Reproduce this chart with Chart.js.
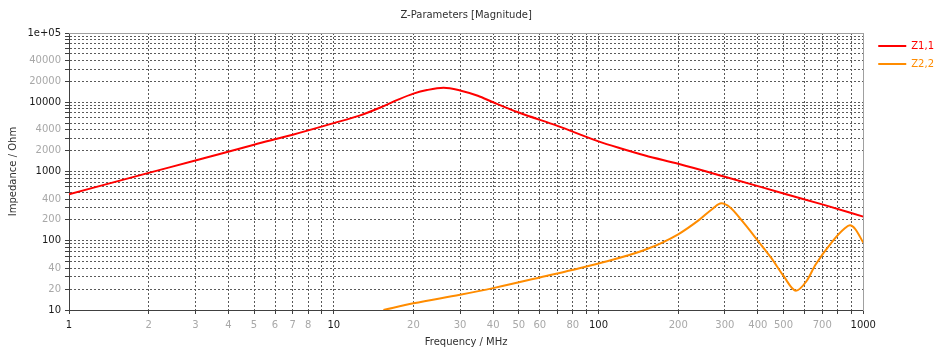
<!DOCTYPE html>
<html>
<head>
<meta charset="utf-8">
<script src="https://cdn.jsdelivr.net/npm/chart.js@4/dist/chart.umd.min.js"></script>
<style>
  html, body { margin: 0; padding: 0; background: #fff; }
  #wrap { width: 940px; height: 352px; }
</style>
</head>
<body>
<div id="wrap"><canvas id="zChart" width="940" height="352"></canvas></div>
<script>
// Z1,1 magnitude (Ohm) vs frequency (MHz)
const freqZ11 = [1, 2, 3, 5, 7, 10, 12.5, 15, 17.5, 20, 22.5, 26, 30, 35, 40, 50, 70, 100, 120, 150, 200, 300, 500, 700, 1000];
const z11 = [470, 955, 1440, 2440, 3400, 5000, 6400, 8400, 10900, 13300, 15000, 16200, 14800, 12400, 10000, 7100, 4550, 2720, 2180, 1700, 1290, 840, 482, 335, 223];

// Z2,2 magnitude (Ohm) vs frequency (MHz)
const freqZ22 = [15.4, 20, 30, 40, 60, 100, 150, 200, 240, 270, 291, 315, 350, 400, 450, 500, 557, 610, 660, 760, 850, 891, 930, 1000];
const z22 = [10, 12.5, 16.6, 20.7, 29.5, 47, 74, 124, 200, 290, 347, 300, 190, 100, 56, 31, 19, 26, 45, 95, 150, 167, 150, 94];

const seriesNames = ['Z1,1', 'Z2,2'];
const seriesColors = ['#ff0000', '#ff8c00'];

// labelled ticks (grid lines are drawn at every 1..9 step of each decade)
const xTickLabels = ['1', '2', '3', '4', '5', '6', '7', '8', '10', '20', '30', '40', '50', '60', '80', '100', '200', '300', '400', '500', '700', '1000'];
const yTickLabels = ['10', '20', '40', '100', '200', '400', '1000', '2000', '4000', '10000', '20000', '40000', '1e+05'];

function decadeSteps(from, to) {
    const out = [];
    for (let d = from; d < to; d *= 10) {
        for (let m = 1; m < 10; m++) out.push(m * d);
    }
    out.push(to);
    return out;
}

function labelFor(list, v) {
    const hit = list.find(s => Math.abs(Number(s) - v) < v * 1e-9);
    return hit === undefined ? '' : hit;
}

function isDecade(v) {
    const l = Math.log10(v);
    return Math.abs(l - Math.round(l)) < 1e-9;
}

const tickFont = { family: 'DejaVu Sans', size: 10, weight: 'normal' };
const gridOpts = { color: '#5a5a5a', tickColor: '#404040', tickLength: 4 };
const borderOpts = { display: true, color: '#404040', width: 1, dash: [2, 2] };

const ctx = document.getElementById('zChart').getContext('2d');
new Chart(ctx, {
    type: 'line',
    data: {
        datasets: [
            {
                label: seriesNames[0],
                data: freqZ11.map((f, i) => ({ x: f, y: z11[i] })),
                borderColor: seriesColors[0],
                backgroundColor: seriesColors[0],
                borderWidth: 2,
                pointRadius: 0,
                cubicInterpolationMode: 'monotone',
                fill: false
            },
            {
                label: seriesNames[1],
                data: freqZ22.map((f, i) => ({ x: f, y: z22[i] })),
                borderColor: seriesColors[1],
                backgroundColor: seriesColors[1],
                borderWidth: 2,
                pointRadius: 0,
                cubicInterpolationMode: 'monotone',
                fill: false
            }
        ]
    },
    options: {
        responsive: false,
        animation: false,
        layout: { padding: { left: 0, right: -4, top: 0, bottom: 0 } },
        scales: {
            x: {
                type: 'logarithmic',
                position: 'bottom',
                min: 1,
                max: 1000,
                afterBuildTicks: s => { s.ticks = decadeSteps(1, 1000).map(v => ({ value: v })); },
                afterFit: s => { s.height = 42; },
                grid: gridOpts,
                border: borderOpts,
                ticks: {
                    autoSkip: false,
                    maxRotation: 0,
                    padding: 5,
                    font: tickFont,
                    color: c => isDecade(c.tick.value) ? '#1a1a1a' : '#a8a8a8',
                    callback: v => labelFor(xTickLabels, v)
                },
                title: {
                    display: true,
                    text: 'Frequency / MHz',
                    color: '#303030',
                    font: tickFont,
                    padding: { top: 0, bottom: 4 }
                }
            },
            y: {
                type: 'logarithmic',
                position: 'left',
                min: 10,
                max: 100000,
                afterBuildTicks: s => { s.ticks = decadeSteps(10, 100000).map(v => ({ value: v })); },
                afterFit: s => { s.width = 69; },
                grid: gridOpts,
                border: borderOpts,
                ticks: {
                    autoSkip: false,
                    padding: 4,
                    font: tickFont,
                    color: c => isDecade(c.tick.value) ? '#1a1a1a' : '#a8a8a8',
                    callback: v => labelFor(yTickLabels, v)
                },
                title: {
                    display: true,
                    text: 'Impedance / Ohm',
                    color: '#303030',
                    font: tickFont,
                    padding: { top: 7, bottom: 0 }
                }
            },
            // frame lines on the top and right of the plot
            x2: {
                type: 'linear',
                position: 'top',
                display: true,
                grid: { display: false },
                ticks: { display: false },
                border: { display: true, color: '#a0a0a0' },
                afterFit: s => { s.height = 0; }
            },
            y2: {
                type: 'linear',
                position: 'right',
                display: true,
                grid: { display: false },
                ticks: { display: false },
                border: { display: true, color: '#a0a0a0' },
                afterFit: s => { s.width = 7; }
            }
        },
        plugins: {
            title: {
                display: true,
                text: 'Z-Parameters [Magnitude]',
                color: '#303030',
                font: tickFont,
                fullSize: false,
                padding: { top: 9, bottom: 12 }
            },
            legend: {
                display: true,
                position: 'right',
                align: 'start',
                fullSize: false,
                labels: {
                    usePointStyle: true,
                    pointStyle: 'line',
                    pointStyleWidth: 28,
                    padding: 8,
                    font: tickFont,
                    generateLabels: chart =>
                        Chart.defaults.plugins.legend.labels.generateLabels(chart)
                            .map(item => ({ ...item, fontColor: item.strokeStyle }))
                }
            },
            tooltip: { enabled: false }
        }
    }
});
</script>
</body>
</html>
